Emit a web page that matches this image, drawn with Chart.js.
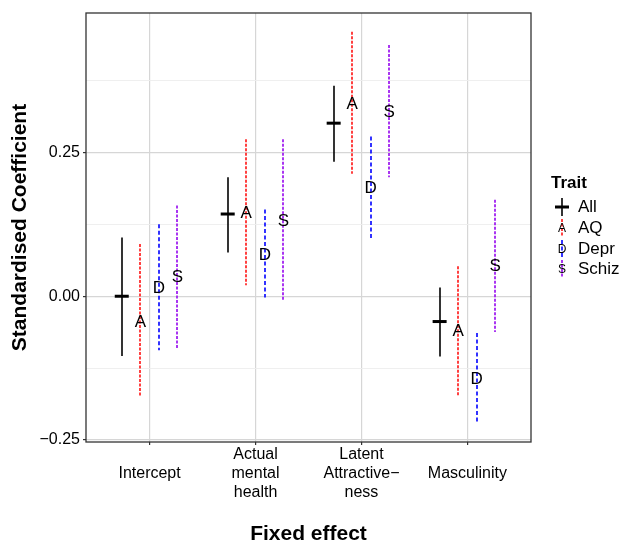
<!DOCTYPE html>
<html>
<head>
<meta charset="utf-8">
<script src="https://cdn.jsdelivr.net/npm/chart.js@4"></script>
<style>
  html, body { margin: 0; padding: 0; background: #ffffff; }
  canvas { display: block; }
</style>
</head>
<body>
<canvas id="coefChart" width="627" height="545"></canvas>
<script>
// categories (x) and their printed labels
const categories = ['Intercept', 'Actual mental health', 'Latent Attractiveness', 'Masculinity'];
const xTickLabels = [['', 'Intercept'], ['Actual', 'mental', 'health'], ['Latent', 'Attractive\u2212', 'ness'], ['', 'Masculinity']];

// y tick labels
const yTickValues = [-0.25, 0, 0.25];
const yTickLabels = ['\u22120.25', '0.00', '0.25'];

// estimates and interval ends, one value per category
const allEst = [0.000, 0.143, 0.301, -0.044];
const allLo = [-0.104, 0.076, 0.234, -0.105];
const allHi = [0.102, 0.207, 0.366, 0.015];

const aqEst = [-0.043, 0.146, 0.335, -0.060];
const aqLo = [-0.175, 0.019, 0.213, -0.173];
const aqHi = [0.091, 0.273, 0.460, 0.052];

const deprEst = [0.015, 0.073, 0.189, -0.142];
const deprLo = [-0.094, -0.002, 0.101, -0.221];
const deprHi = [0.125, 0.151, 0.278, -0.064];

const schizEst = [0.034, 0.132, 0.321, 0.053];
const schizLo = [-0.092, -0.006, 0.207, -0.062];
const schizHi = [0.158, 0.273, 0.437, 0.168];

// trait styling (dodge offset in category units)
const traits = [
    { name: 'All', letter: null, est: allEst, lo: allLo, hi: allHi, dodge: -0.2625, color: '#000000', width: 1.6, dash: [] },
    { name: 'AQ', letter: 'A', est: aqEst, lo: aqLo, hi: aqHi, dodge: -0.0875, color: '#ff4040', width: 2.0, dash: [3, 1.5] },
    { name: 'Depr', letter: 'D', est: deprEst, lo: deprLo, hi: deprHi, dodge: 0.0875, color: '#0000ff', width: 1.6, dash: [4, 2.5] },
    { name: 'Schiz', letter: 'S', est: schizEst, lo: schizLo, hi: schizHi, dodge: 0.2625, color: '#a020f0', width: 1.8, dash: [3, 1.5] }
];

const FONT = '"Liberation Sans", Arial, Helvetica, sans-serif';

function isMajor(v) {
    return Math.abs(v * 4 - Math.round(v * 4)) < 1e-6;
}

// vertical error bars under the markers, letters on top
const errorBars = {
    id: 'errorBars',
    beforeDatasetsDraw(chart) {
        const { ctx, scales: { x, y } } = chart;
        ctx.save();
        traits.forEach(t => {
            ctx.strokeStyle = t.color;
            ctx.lineWidth = t.width;
            ctx.setLineDash(t.dash);
            t.lo.forEach((lo, i) => {
                const px = Math.round(x.getPixelForValue(i + 1 + t.dodge));
                ctx.beginPath();
                ctx.moveTo(px, y.getPixelForValue(t.hi[i]));
                ctx.lineTo(px, y.getPixelForValue(lo));
                ctx.stroke();
            });
        });
        ctx.restore();
    },
    afterDatasetsDraw(chart) {
        const { ctx } = chart;
        ctx.save();
        ctx.fillStyle = '#000000';
        ctx.font = '17px ' + FONT;
        ctx.textAlign = 'center';
        ctx.textBaseline = 'middle';
        chart.data.datasets.forEach((ds, di) => {
            const t = traits[di];
            if (!t.letter) return;
            chart.getDatasetMeta(di).data.forEach(pt => {
                ctx.fillText(t.letter, pt.x, pt.y + 1);
            });
        });
        // panel border
        const a = chart.chartArea;
        ctx.strokeStyle = '#333333';
        ctx.lineWidth = 1.3;
        ctx.strokeRect(a.left, a.top, a.right - a.left, a.bottom - a.top);
        ctx.restore();
    }
};

// ggplot-like legend on the right
const traitLegend = {
    id: 'traitLegend',
    afterDraw(chart) {
        const { ctx } = chart;
        const rows = [207, 228, 249, 269];
        const iconX = 562;
        ctx.save();
        ctx.fillStyle = '#000000';
        ctx.textBaseline = 'middle';
        ctx.textAlign = 'left';
        ctx.font = 'bold 17px ' + FONT;
        ctx.fillText('Trait', 551, 183);
        traits.forEach((t, i) => {
            const cy = rows[i];
            ctx.strokeStyle = t.color;
            ctx.lineWidth = t.width;
            ctx.setLineDash(t.dash);
            ctx.beginPath();
            ctx.moveTo(iconX, cy - 9);
            ctx.lineTo(iconX, cy + 9);
            ctx.stroke();
            ctx.setLineDash([]);
            if (t.letter) {
                ctx.font = '12px ' + FONT;
                ctx.textAlign = 'center';
                ctx.fillText(t.letter, iconX, cy + 1);
            } else {
                ctx.lineWidth = 3;
                ctx.beginPath();
                ctx.moveTo(iconX - 7, cy);
                ctx.lineTo(iconX + 7, cy);
                ctx.stroke();
            }
            ctx.textAlign = 'left';
            ctx.font = '17px ' + FONT;
            ctx.fillText(t.name, 578, cy);
        });
        ctx.restore();
    }
};

const ctx = document.getElementById('coefChart').getContext('2d');
const coefChart = new Chart(ctx, {
    type: 'scatter',
    data: {
        datasets: traits.map((t, ti) => ({
            label: t.name,
            data: t.est.map((v, i) => ({ x: i + 1 + t.dodge, y: v })),
            pointStyle: 'line',
            pointRadius: ti === 0 ? 7 : 0,
            pointHoverRadius: ti === 0 ? 7 : 0,
            pointBorderWidth: 3,
            borderColor: '#000000',
            backgroundColor: '#000000'
        }))
    },
    options: {
        responsive: false,
        animation: false,
        devicePixelRatio: 1,
        layout: { padding: { left: 0, top: 13, right: 96, bottom: 0 } },
        plugins: {
            legend: { display: false },
            tooltip: { enabled: false }
        },
        scales: {
            x: {
                type: 'linear',
                min: 0.4,
                max: 4.6,
                afterBuildTicks: scale => { scale.ticks = categories.map((c, i) => ({ value: i + 1 })); },
                afterFit: scale => { scale.height = 103; },
                border: { display: false },
                grid: {
                    color: '#d6d6d6',
                    lineWidth: 1.2,
                    tickColor: '#333333',
                    tickLength: 3
                },
                ticks: {
                    color: '#000000',
                    padding: 0,
                    maxRotation: 0,
                    autoSkip: false,
                    font: { family: FONT, size: 16, lineHeight: 1.2 },
                    callback: value => xTickLabels[Math.round(value) - 1]
                },
                title: {
                    display: true,
                    text: 'Fixed effect',
                    color: '#000000',
                    padding: { top: 0, bottom: 0 },
                    font: { family: FONT, size: 21, weight: 'bold', lineHeight: 1.0 }
                }
            },
            y: {
                min: -0.2535,
                max: 0.4926,
                afterBuildTicks: scale => {
                    scale.ticks = [-0.25, -0.125, 0, 0.125, 0.25, 0.375].map(v => ({ value: v }));
                },
                afterFit: scale => { scale.width = 86; },
                border: { display: false },
                grid: {
                    color: c => isMajor(c.tick.value) ? '#d6d6d6' : '#ededed',
                    lineWidth: c => isMajor(c.tick.value) ? 1.2 : 0.9,
                    tickColor: c => isMajor(c.tick.value) ? '#333333' : 'rgba(0,0,0,0)',
                    tickLength: 3
                },
                ticks: {
                    color: '#000000',
                    padding: 3,
                    font: { family: FONT, size: 16 },
                    callback: value => {
                        const k = yTickValues.findIndex(v => Math.abs(v - value) < 1e-6);
                        return k >= 0 ? yTickLabels[k] : '';
                    }
                },
                title: {
                    display: true,
                    text: 'Standardised Coefficient',
                    color: '#000000',
                    padding: { top: 8, bottom: 0 },
                    font: { family: FONT, size: 21, weight: 'bold', lineHeight: 1.2 }
                }
            }
        }
    },
    plugins: [errorBars, traitLegend]
});
</script>
</body>
</html>
